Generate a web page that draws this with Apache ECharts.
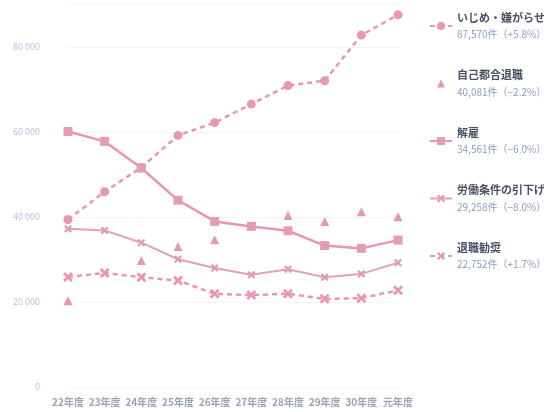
<!DOCTYPE html>
<html><head><meta charset="utf-8">
<script src="https://cdn.jsdelivr.net/npm/echarts@6/dist/echarts.min.js"></script>
<style>html,body{margin:0;padding:0;background:#fff}#c{width:544px;height:412px}</style>
</head><body><div id="c"></div>
<script>
const categories = ['22年度','23年度','24年度','25年度','26年度','27年度','28年度','29年度','30年度','元年度'];
const ijime = [39405,45939,51670,59197,62191,66566,70917,72067,82797,87570];
const jikoTaishoku = [20265,null,29763,33049,34626,null,40364,38954,41258,40081];
const kaiko = [60118,57785,51515,43956,38966,37787,36760,33269,32614,34561];
const hikisage = [37210,36849,33955,30067,28015,26392,27723,25841,26609,29258];
const kanshou = [25902,26828,25838,25041,21928,21629,21954,20736,20905,22752];
const seriesNames = ['いじめ・嫌がらせ','自己都合退職','解雇','労働条件の引下げ','退職勧奨'];
const legendCounts = ['87,570件（+5.8%）','40,081件（−2.2%）','34,561件（−6.0%）','29,258件（−8.0%）','22,752件（+1.7%）'];
const yTicks = [0,20000,40000,60000,80000];

const pink = '#e995b5';
const xPath = 'path://M2,0L5,3L8,0L10,2L7,5L10,8L8,10L5,7L2,10L0,8L3,5L0,2Z';
const chart = echarts.init(document.getElementById('c'), null, {renderer:'canvas'});
const fmtNum = v => v === 0 ? '0' : String(v).replace(/\B(?=(\d{3})+(?!\d))/g, ' ');
chart.setOption({
  animation:false,
  backgroundColor:'#fff',
  textStyle:{fontFamily:'"Noto Sans CJK JP", sans-serif'},
  grid:{left:68,right:146,top:4.5,bottom:25,containLabel:false},
  xAxis:{type:'category',data:categories,boundaryGap:false,
    axisLine:{show:false},axisTick:{show:false},splitLine:{show:false},
    axisLabel:{color:'#9aa2b8',fontSize:10,fontWeight:'bold',margin:10,interval:0}},
  yAxis:{type:'value',min:0,max:90000,interval:20000,
    axisLine:{show:false},axisTick:{show:false},
    splitLine:{lineStyle:{color:'#f2f3f7',width:1}},
    axisLabel:{color:'#b9c1da',fontSize:9,margin:28,
      formatter:v => yTicks.indexOf(v) >= 0 ? fmtNum(v) : ''}},
  legend:{orient:'vertical',left:424,top:7,itemWidth:22,itemHeight:10,itemGap:30,
    data:seriesNames,
    formatter:name => '{n|' + name + '}\n{c|' + legendCounts[seriesNames.indexOf(name)] + '}',
    textStyle:{rich:{
      n:{color:'#4a4f63',fontSize:11,fontWeight:'bold',lineHeight:17},
      c:{color:'#8a9cc4',fontSize:10,lineHeight:17}}}},
  series:[
    {name:seriesNames[0],type:'line',data:ijime,symbol:'circle',symbolSize:9,
      itemStyle:{color:pink},lineStyle:{color:pink,width:2.5,type:[5,4]}},
    {name:seriesNames[1],type:'line',data:jikoTaishoku,symbol:'triangle',symbolSize:9,showSymbol:true,
      itemStyle:{color:pink},lineStyle:{opacity:0,width:0}},
    {name:seriesNames[2],type:'line',data:kaiko,symbol:'rect',symbolSize:9,
      itemStyle:{color:'#e59bb5'},lineStyle:{color:pink,width:2.5}},
    {name:seriesNames[3],type:'line',data:hikisage,symbol:xPath,symbolSize:8,
      itemStyle:{color:'#df9cb5'},lineStyle:{color:'#e3a0b8',width:2}},
    {name:seriesNames[4],type:'line',data:kanshou,symbol:xPath,symbolSize:10,
      itemStyle:{color:pink},lineStyle:{color:pink,width:2.5,type:[5,4]}}
  ]
});
</script></body></html>
